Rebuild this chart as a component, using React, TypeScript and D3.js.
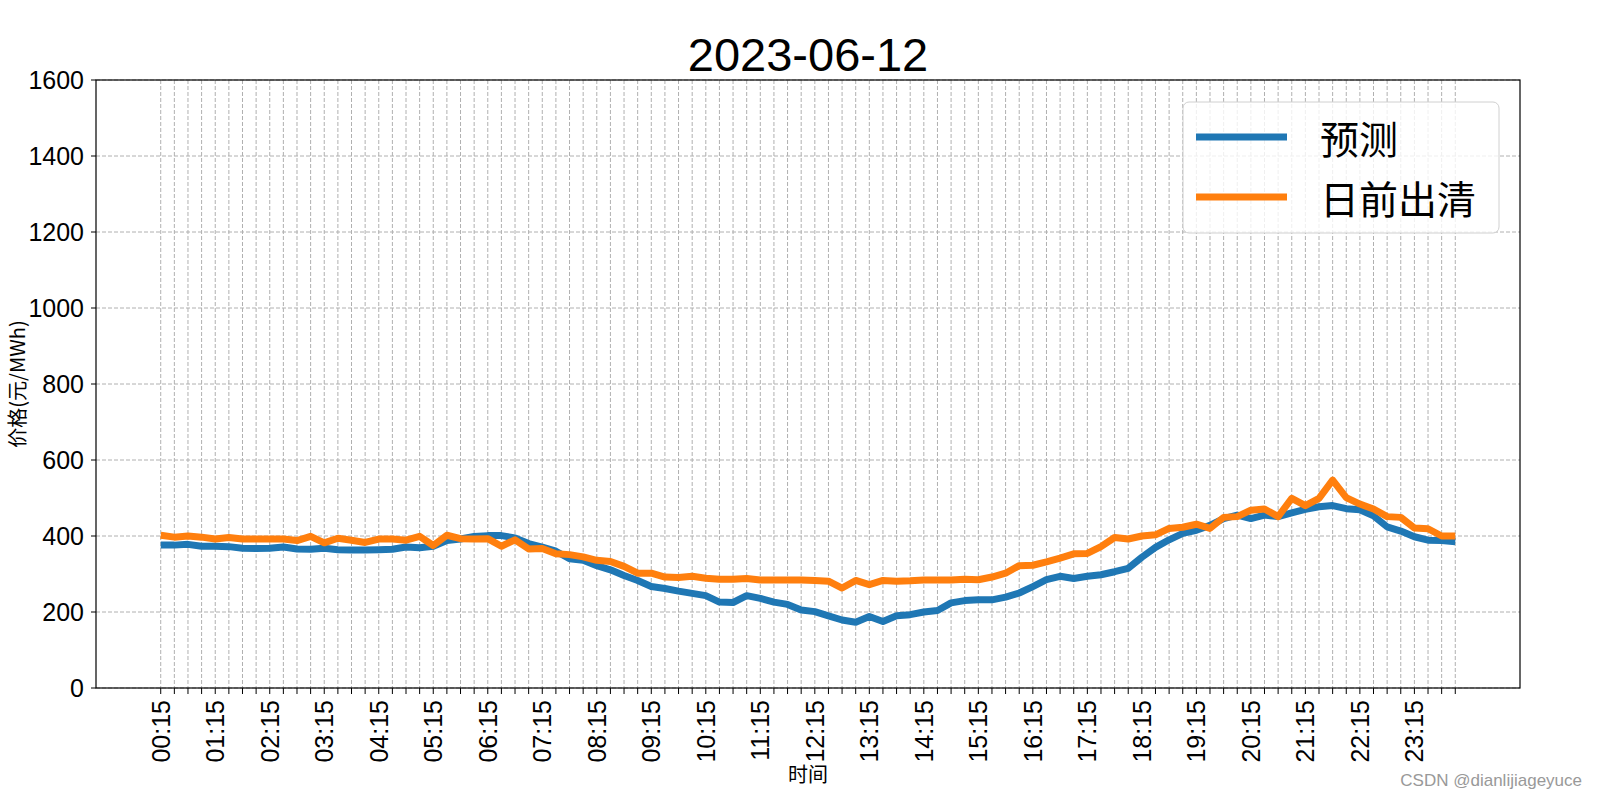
import React, { useEffect } from 'react';
import * as d3 from 'd3';

// 96 quarter-hour points, 00:15 .. 24:00
const times = ('00:15 00:30 00:45 01:00 01:15 01:30 01:45 02:00 02:15 02:30 02:45 03:00 ' +
    '03:15 03:30 03:45 04:00 04:15 04:30 04:45 05:00 05:15 05:30 05:45 06:00 ' +
    '06:15 06:30 06:45 07:00 07:15 07:30 07:45 08:00 08:15 08:30 08:45 09:00 ' +
    '09:15 09:30 09:45 10:00 10:15 10:30 10:45 11:00 11:15 11:30 11:45 12:00 ' +
    '12:15 12:30 12:45 13:00 13:15 13:30 13:45 14:00 14:15 14:30 14:45 15:00 ' +
    '15:15 15:30 15:45 16:00 16:15 16:30 16:45 17:00 17:15 17:30 17:45 18:00 ' +
    '18:15 18:30 18:45 19:00 19:15 19:30 19:45 20:00 20:15 20:30 20:45 21:00 ' +
    '21:15 21:30 21:45 22:00 22:15 22:30 22:45 23:00 23:15 23:30 23:45 24:00').split(' ');

const tickLabels = ['00:15', '01:15', '02:15', '03:15', '04:15', '05:15', '06:15', '07:15',
    '08:15', '09:15', '10:15', '11:15', '12:15', '13:15', '14:15', '15:15',
    '16:15', '17:15', '18:15', '19:15', '20:15', '21:15', '22:15', '23:15'];

const yTicks = [0, 200, 400, 600, 800, 1000, 1200, 1400, 1600];

// 预测
const forecast = [
    376, 376, 378, 373, 373, 372, 368, 367, 368, 371, 366, 365, 368, 364, 363, 363, 364, 365, 371, 369, 373, 388, 392, 399,
    401, 401, 395, 380, 371, 360, 340, 336, 322, 311, 296, 283, 267, 262, 255, 249, 243, 226, 225, 243, 236, 226, 220,
    205, 201, 190, 179, 173, 188, 175, 190, 193, 200, 204, 224, 230, 232, 232, 239, 250, 267, 285, 294, 288, 294,
    298, 306, 315, 344, 370, 390, 407, 415, 428, 446, 455, 446, 455, 451, 461, 470, 477, 480, 472, 469, 453, 424, 413, 398, 389, 388, 385,
];

// 日前出清
const dayAhead = [
    402, 397, 400, 397, 392, 396, 392, 392, 392, 392, 388, 399, 382, 394, 389, 383, 392, 392, 389, 399, 375, 402, 393, 392,
    393, 373, 390, 366, 367, 353, 351, 345, 336, 333, 320, 302, 302, 292, 291, 294, 289, 286, 286, 288, 284, 284, 284,
    284, 283, 281, 263, 283, 272, 283, 281, 282, 284, 284, 284, 286, 285, 292, 302, 322, 323, 332, 342, 353, 354,
    372, 396, 392, 400, 403, 420, 423, 431, 420, 449, 451, 468, 471, 451, 499, 480, 499, 547, 501, 484, 471, 451, 449, 421, 419, 400, 400,
];

const seriesNames = ['预测', '日前出清'];
const colors = ['#1f77b4', '#ff7f0e'];

const W = 1600, H = 800;
const L = 96, R = 1520, T = 80, B = 688;
const latin = '"Liberation Sans", Arial, sans-serif';
const cjk = '"Noto Sans CJK SC", "Liberation Sans", sans-serif';

const App: React.FC = () => {
    useEffect(() => {
        document.body.style.margin = '0';
    }, []);

    const n = times.length;
    const pad = (n - 1) * 0.05;
    const x = d3.scaleLinear().domain([-pad, n - 1 + pad]).range([L, R]);
    const y = d3.scaleLinear().domain([0, 1600]).range([B, T]);

    const line = d3.line<number>()
        .x((_, i) => x(i))
        .y((d) => y(d));

    const series = [forecast, dayAhead];

    return (
        <svg width={W} height={H} style={{ display: 'block', background: '#fff' }}>
            {/* grid */}
            <g stroke="#b0b0b0" strokeWidth={1} strokeDasharray="4,2" fill="none">
                {times.map((t, i) => (
                    <line key={'gx' + t} x1={x(i)} x2={x(i)} y1={T} y2={B} />
                ))}
                {yTicks.map((v) => (
                    <line key={'gy' + v} x1={L} x2={R} y1={y(v)} y2={y(v)} />
                ))}
            </g>

            {/* data lines */}
            {series.map((s, k) => (
                <path key={seriesNames[k]} d={line(s) || ''} fill="none" stroke={colors[k]}
                    strokeWidth={7} strokeLinejoin="round" strokeLinecap="butt" />
            ))}

            {/* frame */}
            <rect x={L} y={T} width={R - L} height={B - T} fill="none" stroke="#000" strokeWidth={1.2} />

            {/* x ticks */}
            <g stroke="#000" strokeWidth={1}>
                {times.map((t, i) => (
                    <line key={'tx' + t} x1={x(i)} x2={x(i)} y1={B} y2={B + 6} />
                ))}
            </g>
            <g fontFamily={latin} fontSize={25} fill="#000">
                {tickLabels.map((lab) => {
                    const i = times.indexOf(lab);
                    return (
                        <text key={'lx' + lab} transform={`translate(${x(i)},${B + 12}) rotate(-90)`}
                            textAnchor="end" dominantBaseline="central">{lab}</text>
                    );
                })}
            </g>

            {/* y ticks */}
            <g stroke="#000" strokeWidth={1}>
                {yTicks.map((v) => (
                    <line key={'ty' + v} x1={L - 5} x2={L} y1={y(v)} y2={y(v)} />
                ))}
            </g>
            <g fontFamily={latin} fontSize={25} fill="#000" textAnchor="end">
                {yTicks.map((v) => (
                    <text key={'ly' + v} x={L - 12} y={y(v)} dominantBaseline="central">{v}</text>
                ))}
            </g>

            {/* title & axis labels */}
            <text x={(L + R) / 2} y={54} textAnchor="middle" dominantBaseline="central"
                fontFamily={latin} fontSize={47}>2023-06-12</text>
            <text x={(L + R) / 2} y={773} textAnchor="middle" dominantBaseline="central"
                fontFamily={cjk} fontSize={20}>时间</text>
            <text transform={`translate(16,${(T + B) / 2}) rotate(-90)`} textAnchor="middle"
                dominantBaseline="central" fontFamily={cjk} fontSize={20}>价格(元/MWh)</text>

            {/* legend */}
            <g>
                <rect x={1183} y={102} width={316} height={131} rx={6} fill="#fff" fillOpacity={0.8}
                    stroke="#d0d0d0" strokeWidth={1} />
                {seriesNames.map((name, k) => (
                    <g key={'lg' + name} transform={`translate(0,${137 + k * 60})`}>
                        <line x1={1196} x2={1287} y1={0} y2={0} stroke={colors[k]} strokeWidth={7} />
                        <text x={1320} y={0} dominantBaseline="central" fontFamily={cjk} fontSize={39}>{name}</text>
                    </g>
                ))}
            </g>

            {/* watermark */}
            <text x={1582} y={780} textAnchor="end" dominantBaseline="central" fontFamily={latin}
                fontSize={17} fill="#999">CSDN @dianlijiageyuce</text>
        </svg>
    );
};

export default App;
